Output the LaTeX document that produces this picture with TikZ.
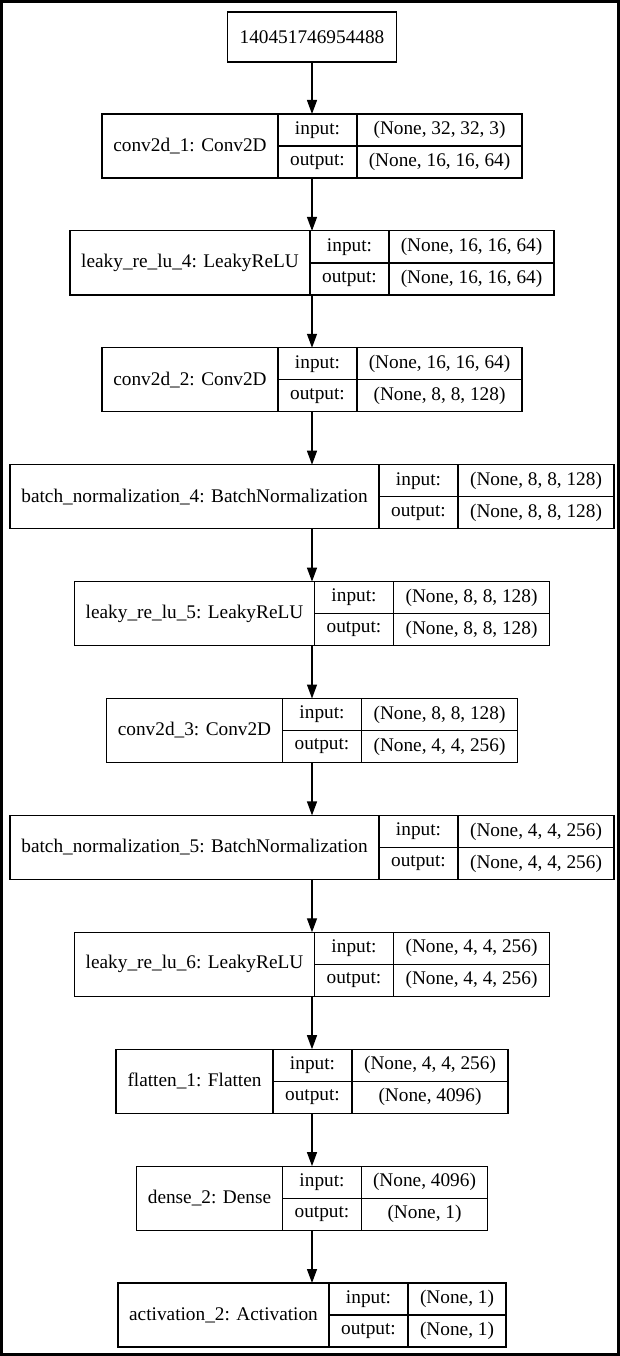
\documentclass[tikz,border=0pt]{standalone}
\usepackage{fontspec}
\setmainfont{Liberation Serif}
\usepackage{tikz}
\usetikzlibrary{arrows.meta, positioning}

\begin{document}
\begin{tikzpicture}[
            x=1pt, y=-1pt,
            font=\fontsize{19.3}{23}\selectfont,
            layer/.style={minimum height=64pt, inner sep=0pt, outer sep=0pt},
            cell/.style={draw, line width=1.2pt, minimum height=32pt, inner sep=0pt, outer sep=0pt, anchor=north west},
            flow/.style={line width=1.3pt, -{Triangle[length=14pt, width=10pt]}}
        ]
        \useasboundingbox (0,0) rectangle (620,1356);

        % The Frame
        \draw[line width=3pt] (1.5,1.5) rectangle (618.5,1354.5);

        % Input
        \node[layer, draw, line width=1.2pt, minimum width=169pt, minimum height=50pt] (inp) at (312,37) {140451746954488};

        % conv2d_1
        \node[layer, minimum width=420pt] (conv1) at (312,146) {};
        \node[cell, minimum width=176pt, minimum height=64pt] (conv1n) at (conv1.north west) {conv2d\_1: Conv2D};
        \node[cell, minimum width=79pt] (conv1i) at (conv1n.north east) {input:};
        \node[cell, minimum width=79pt] (conv1o) at (conv1i.south west) {output:};
        \node[cell, minimum width=165pt] (conv1iv) at (conv1i.north east) {(None, 32, 32, 3)};
        \node[cell, minimum width=165pt] (conv1ov) at (conv1o.north east) {(None, 16, 16, 64)};

        % leaky_re_lu_4
        \node[layer, minimum width=484pt] (lrelu4) at (312,262.9) {};
        \node[cell, minimum width=240pt, minimum height=64pt] (lrelu4n) at (lrelu4.north west) {leaky\_re\_lu\_4: LeakyReLU};
        \node[cell, minimum width=79pt] (lrelu4i) at (lrelu4n.north east) {input:};
        \node[cell, minimum width=79pt] (lrelu4o) at (lrelu4i.south west) {output:};
        \node[cell, minimum width=165pt] (lrelu4iv) at (lrelu4i.north east) {(None, 16, 16, 64)};
        \node[cell, minimum width=165pt] (lrelu4ov) at (lrelu4o.north east) {(None, 16, 16, 64)};

        % conv2d_2
        \node[layer, minimum width=420pt] (conv2) at (312,379.8) {};
        \node[cell, minimum width=176pt, minimum height=64pt] (conv2n) at (conv2.north west) {conv2d\_2: Conv2D};
        \node[cell, minimum width=79pt] (conv2i) at (conv2n.north east) {input:};
        \node[cell, minimum width=79pt] (conv2o) at (conv2i.south west) {output:};
        \node[cell, minimum width=165pt] (conv2iv) at (conv2i.north east) {(None, 16, 16, 64)};
        \node[cell, minimum width=165pt] (conv2ov) at (conv2o.north east) {(None, 8, 8, 128)};

        % batch_normalization_4
        \node[layer, minimum width=604pt] (bn4) at (312,496.7) {};
        \node[cell, minimum width=369pt, minimum height=64pt] (bn4n) at (bn4.north west) {batch\_normalization\_4: BatchNormalization};
        \node[cell, minimum width=79pt] (bn4i) at (bn4n.north east) {input:};
        \node[cell, minimum width=79pt] (bn4o) at (bn4i.south west) {output:};
        \node[cell, minimum width=156pt] (bn4iv) at (bn4i.north east) {(None, 8, 8, 128)};
        \node[cell, minimum width=156pt] (bn4ov) at (bn4o.north east) {(None, 8, 8, 128)};

        % leaky_re_lu_5
        \node[layer, minimum width=475pt] (lrelu5) at (312,613.6) {};
        \node[cell, minimum width=240pt, minimum height=64pt] (lrelu5n) at (lrelu5.north west) {leaky\_re\_lu\_5: LeakyReLU};
        \node[cell, minimum width=79pt] (lrelu5i) at (lrelu5n.north east) {input:};
        \node[cell, minimum width=79pt] (lrelu5o) at (lrelu5i.south west) {output:};
        \node[cell, minimum width=156pt] (lrelu5iv) at (lrelu5i.north east) {(None, 8, 8, 128)};
        \node[cell, minimum width=156pt] (lrelu5ov) at (lrelu5o.north east) {(None, 8, 8, 128)};

        % conv2d_3
        \node[layer, minimum width=411pt] (conv3) at (312,730.5) {};
        \node[cell, minimum width=176pt, minimum height=64pt] (conv3n) at (conv3.north west) {conv2d\_3: Conv2D};
        \node[cell, minimum width=79pt] (conv3i) at (conv3n.north east) {input:};
        \node[cell, minimum width=79pt] (conv3o) at (conv3i.south west) {output:};
        \node[cell, minimum width=156pt] (conv3iv) at (conv3i.north east) {(None, 8, 8, 128)};
        \node[cell, minimum width=156pt] (conv3ov) at (conv3o.north east) {(None, 4, 4, 256)};

        % batch_normalization_5
        \node[layer, minimum width=604pt] (bn5) at (312,847.4) {};
        \node[cell, minimum width=369pt, minimum height=64pt] (bn5n) at (bn5.north west) {batch\_normalization\_5: BatchNormalization};
        \node[cell, minimum width=79pt] (bn5i) at (bn5n.north east) {input:};
        \node[cell, minimum width=79pt] (bn5o) at (bn5i.south west) {output:};
        \node[cell, minimum width=156pt] (bn5iv) at (bn5i.north east) {(None, 4, 4, 256)};
        \node[cell, minimum width=156pt] (bn5ov) at (bn5o.north east) {(None, 4, 4, 256)};

        % leaky_re_lu_6
        \node[layer, minimum width=475pt] (lrelu6) at (312,964.3) {};
        \node[cell, minimum width=240pt, minimum height=64pt] (lrelu6n) at (lrelu6.north west) {leaky\_re\_lu\_6: LeakyReLU};
        \node[cell, minimum width=79pt] (lrelu6i) at (lrelu6n.north east) {input:};
        \node[cell, minimum width=79pt] (lrelu6o) at (lrelu6i.south west) {output:};
        \node[cell, minimum width=156pt] (lrelu6iv) at (lrelu6i.north east) {(None, 4, 4, 256)};
        \node[cell, minimum width=156pt] (lrelu6ov) at (lrelu6o.north east) {(None, 4, 4, 256)};

        % flatten_1
        \node[layer, minimum width=392pt] (flat1) at (312,1081.2) {};
        \node[cell, minimum width=157pt, minimum height=64pt] (flat1n) at (flat1.north west) {flatten\_1: Flatten};
        \node[cell, minimum width=79pt] (flat1i) at (flat1n.north east) {input:};
        \node[cell, minimum width=79pt] (flat1o) at (flat1i.south west) {output:};
        \node[cell, minimum width=156pt] (flat1iv) at (flat1i.north east) {(None, 4, 4, 256)};
        \node[cell, minimum width=156pt] (flat1ov) at (flat1o.north east) {(None, 4096)};

        % dense_2
        \node[layer, minimum width=351pt] (dense2) at (312,1198.1) {};
        \node[cell, minimum width=146pt, minimum height=64pt] (dense2n) at (dense2.north west) {dense\_2: Dense};
        \node[cell, minimum width=79pt] (dense2i) at (dense2n.north east) {input:};
        \node[cell, minimum width=79pt] (dense2o) at (dense2i.south west) {output:};
        \node[cell, minimum width=126pt] (dense2iv) at (dense2i.north east) {(None, 4096)};
        \node[cell, minimum width=126pt] (dense2ov) at (dense2o.north east) {(None, 1)};

        % activation_2
        \node[layer, minimum width=388pt] (act2) at (312,1315) {};
        \node[cell, minimum width=211pt, minimum height=64pt] (act2n) at (act2.north west) {activation\_2: Activation};
        \node[cell, minimum width=79pt] (act2i) at (act2n.north east) {input:};
        \node[cell, minimum width=79pt] (act2o) at (act2i.south west) {output:};
        \node[cell, minimum width=98pt] (act2iv) at (act2i.north east) {(None, 1)};
        \node[cell, minimum width=98pt] (act2ov) at (act2o.north east) {(None, 1)};

        % Arrows
        \draw[flow] (inp) -- (conv1);
        \draw[flow] (conv1) -- (lrelu4);
        \draw[flow] (lrelu4) -- (conv2);
        \draw[flow] (conv2) -- (bn4);
        \draw[flow] (bn4) -- (lrelu5);
        \draw[flow] (lrelu5) -- (conv3);
        \draw[flow] (conv3) -- (bn5);
        \draw[flow] (bn5) -- (lrelu6);
        \draw[flow] (lrelu6) -- (flat1);
        \draw[flow] (flat1) -- (dense2);
        \draw[flow] (dense2) -- (act2);

        \end{tikzpicture}
\end{document}
